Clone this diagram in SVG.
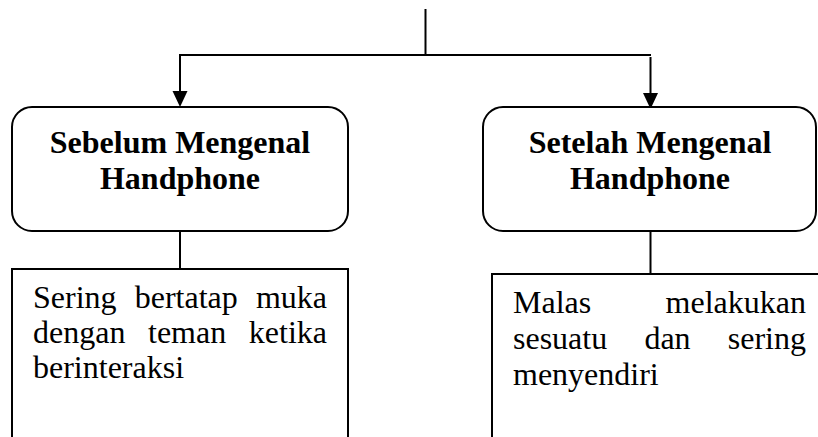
<svg xmlns="http://www.w3.org/2000/svg" width="818" height="437" viewBox="0 0 818 437">
<style>
.ln{stroke:#000;stroke-width:2;fill:none}
.box{stroke:#000;stroke-width:2;fill:#fff}
.hd{font-family:"Liberation Serif","Times New Roman",serif;font-weight:bold;font-size:32px;fill:#000;text-anchor:middle}
.tx{font-family:"Liberation Serif","Times New Roman",serif;font-size:32px;fill:#000}
</style>
<g id="connectors">
<line class="ln" x1="425.5" y1="9" x2="425.5" y2="55"/>
<line class="ln" x1="179" y1="55" x2="651" y2="55"/>
<path d="M180,55 V92" class="ln"/>
<polygon points="172.5,91 187.5,91 180,107" fill="#000"/>
<path d="M650.5,57 V93" class="ln"/>
<polygon points="643,93 658,93 650.5,109" fill="#000"/>
<line class="ln" x1="180" y1="230" x2="180" y2="269"/>
<line class="ln" x1="650.5" y1="231" x2="650.5" y2="274"/>
</g>
<g id="node-sebelum">
<rect class="box" x="12" y="107" width="336" height="124" rx="20" ry="20"/>
<text class="hd" x="180" y="153">Sebelum Mengenal</text>
<text class="hd" x="180" y="189">Handphone</text>
</g>
<g id="node-setelah">
<rect class="box" x="483" y="107" width="333" height="124" rx="20" ry="20"/>
<text class="hd" x="650" y="153">Setelah Mengenal</text>
<text class="hd" x="650" y="189">Handphone</text>
</g>
<g id="node-sebelum-desc">
<path class="ln" d="M12,438 V269 H348 V438"/>
<text class="tx" x="33" y="308">Sering</text>
<text class="tx" x="134.7" y="308">bertatap</text>
<text class="tx" x="327" y="308" text-anchor="end">muka</text>
<text class="tx" x="33" y="343">dengan</text>
<text class="tx" x="148" y="343">teman</text>
<text class="tx" x="327" y="343" text-anchor="end">ketika</text>
<text class="tx" x="33" y="378">berinteraksi</text>
</g>
<g id="node-setelah-desc">
<path class="ln" d="M492,438 V274 H820"/>
<text class="tx" x="513" y="313">Malas</text>
<text class="tx" x="806" y="313" text-anchor="end">melakukan</text>
<text class="tx" x="513" y="349">sesuatu</text>
<text class="tx" x="644.4" y="349">dan</text>
<text class="tx" x="806" y="349" text-anchor="end">sering</text>
<text class="tx" x="513" y="385">menyendiri</text>
</g>
</svg>
